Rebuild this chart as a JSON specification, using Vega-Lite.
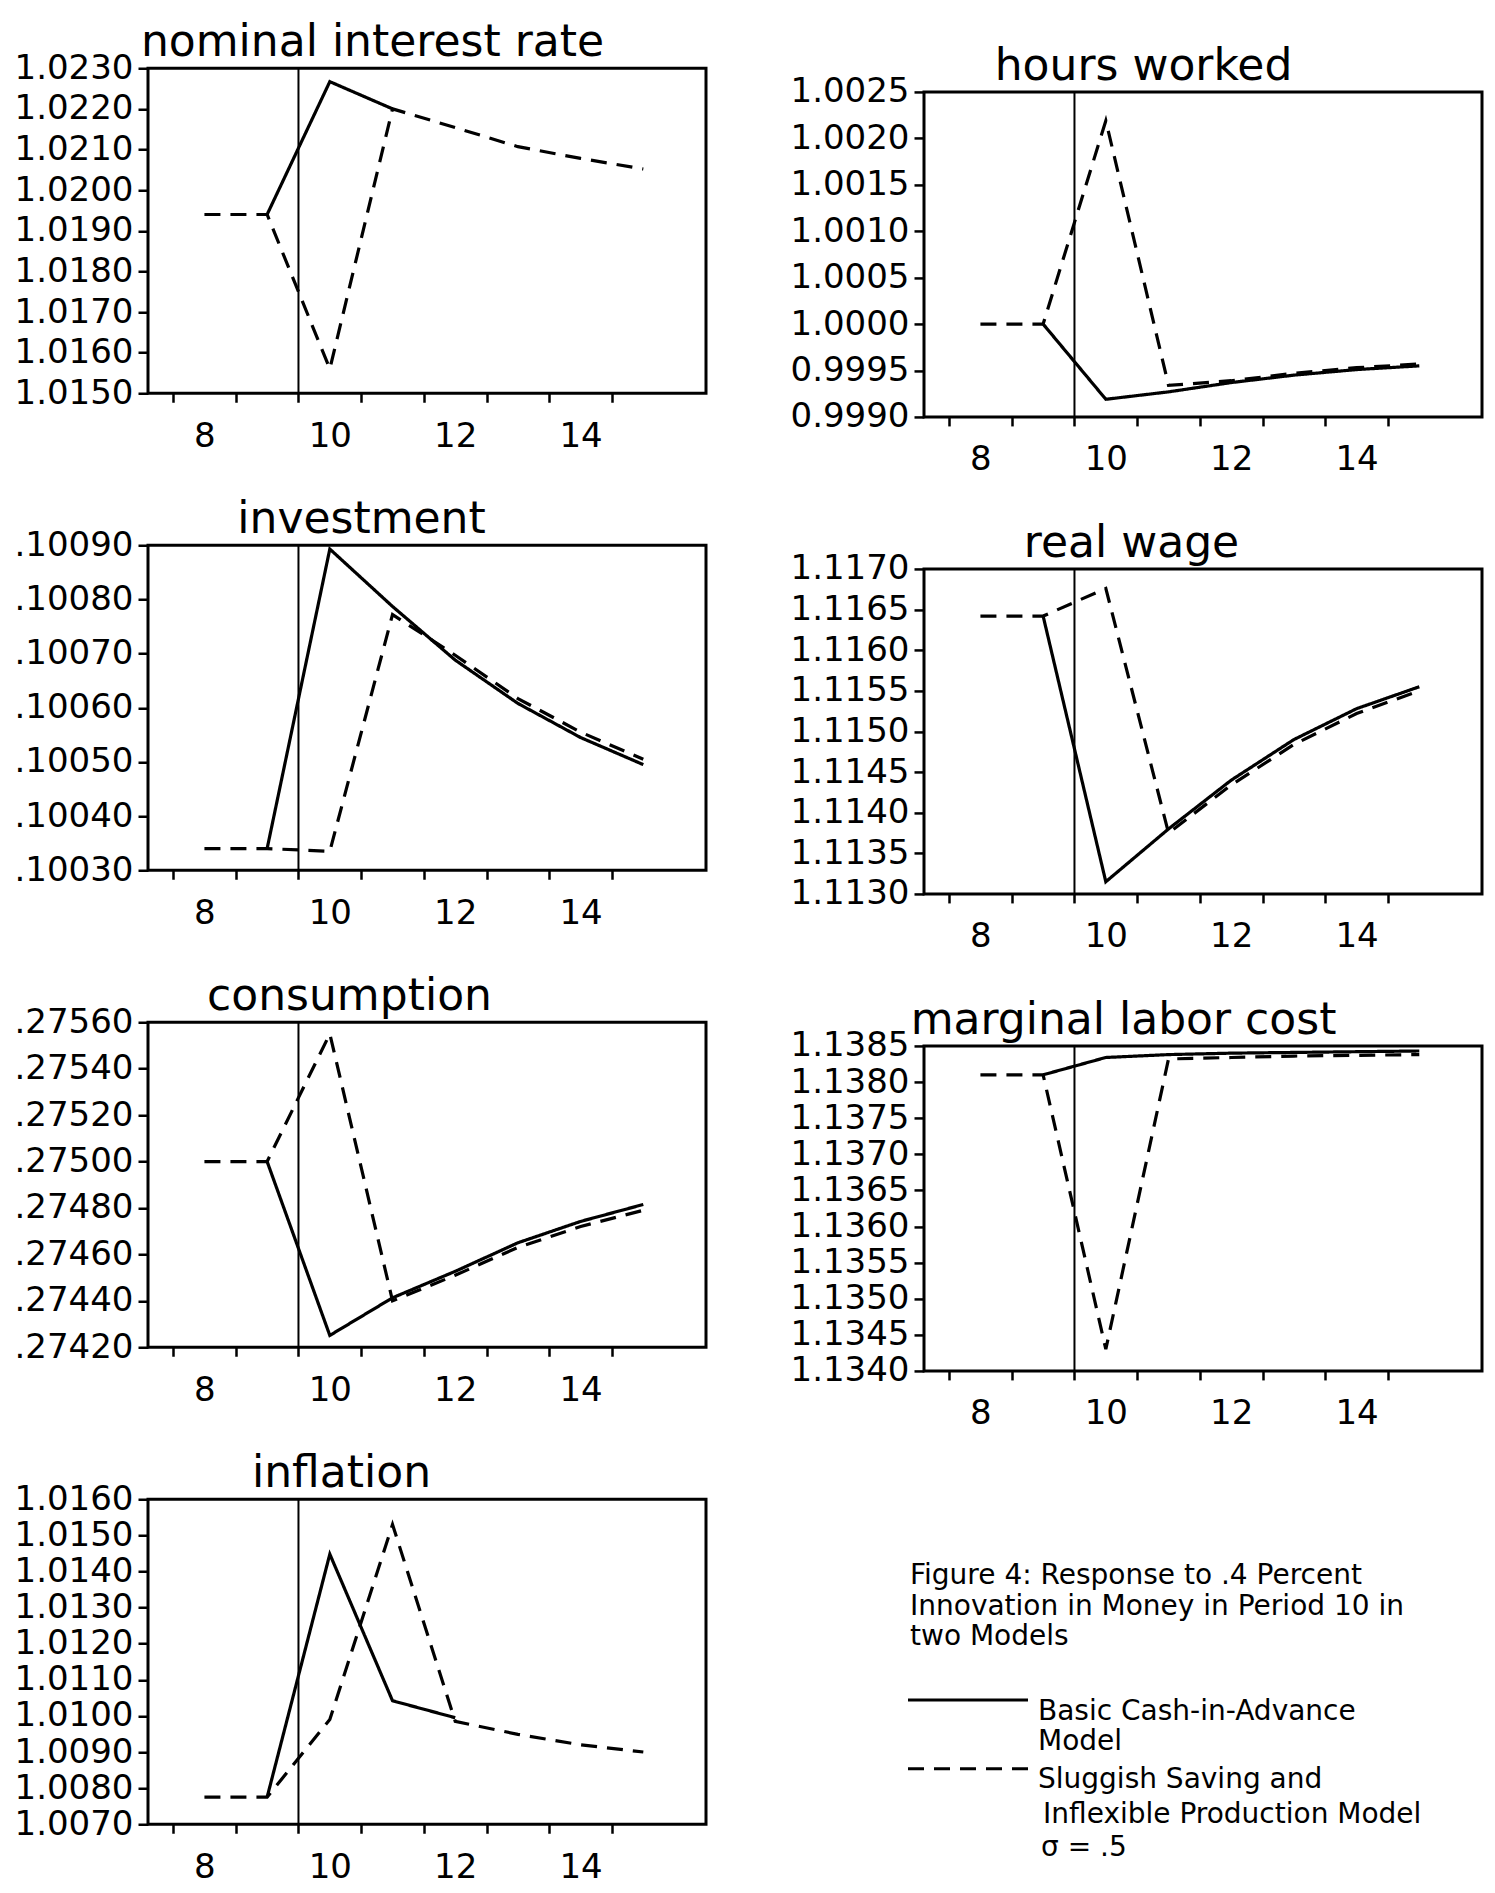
{
  "$schema": "https://vega.github.io/schema/vega-lite/v6.json",
  "background": "white",
  "padding": {"left": 3, "top": 19, "right": 5, "bottom": 3},
  "datasets": {
    "irf": [
      {"panel": "nominal", "model": "Basic CIA", "t": 9, "value": 1.0194},
      {"panel": "nominal", "model": "Basic CIA", "t": 10, "value": 1.02267},
      {"panel": "nominal", "model": "Basic CIA", "t": 11, "value": 1.0220},
      {"panel": "nominal", "model": "Sluggish Saving", "t": 8, "value": 1.0194},
      {"panel": "nominal", "model": "Sluggish Saving", "t": 9, "value": 1.0194},
      {"panel": "nominal", "model": "Sluggish Saving", "t": 10, "value": 1.0156},
      {"panel": "nominal", "model": "Sluggish Saving", "t": 11, "value": 1.0220},
      {"panel": "nominal", "model": "Sluggish Saving", "t": 12, "value": 1.02154},
      {"panel": "nominal", "model": "Sluggish Saving", "t": 13, "value": 1.02107},
      {"panel": "nominal", "model": "Sluggish Saving", "t": 14, "value": 1.02078},
      {"panel": "nominal", "model": "Sluggish Saving", "t": 15, "value": 1.02052},

      {"panel": "hours", "model": "Basic CIA", "t": 9, "value": 1.0},
      {"panel": "hours", "model": "Basic CIA", "t": 10, "value": 0.99919},
      {"panel": "hours", "model": "Basic CIA", "t": 11, "value": 0.99927},
      {"panel": "hours", "model": "Basic CIA", "t": 12, "value": 0.99937},
      {"panel": "hours", "model": "Basic CIA", "t": 13, "value": 0.99945},
      {"panel": "hours", "model": "Basic CIA", "t": 14, "value": 0.99951},
      {"panel": "hours", "model": "Basic CIA", "t": 15, "value": 0.99955},
      {"panel": "hours", "model": "Sluggish Saving", "t": 8, "value": 1.0},
      {"panel": "hours", "model": "Sluggish Saving", "t": 9, "value": 1.0},
      {"panel": "hours", "model": "Sluggish Saving", "t": 10, "value": 1.00219},
      {"panel": "hours", "model": "Sluggish Saving", "t": 11, "value": 0.99934},
      {"panel": "hours", "model": "Sluggish Saving", "t": 12, "value": 0.99939},
      {"panel": "hours", "model": "Sluggish Saving", "t": 13, "value": 0.99947},
      {"panel": "hours", "model": "Sluggish Saving", "t": 14, "value": 0.99953},
      {"panel": "hours", "model": "Sluggish Saving", "t": 15, "value": 0.99957},

      {"panel": "investment", "model": "Basic CIA", "t": 9, "value": 0.10034},
      {"panel": "investment", "model": "Basic CIA", "t": 10, "value": 0.100893},
      {"panel": "investment", "model": "Basic CIA", "t": 11, "value": 0.100787},
      {"panel": "investment", "model": "Basic CIA", "t": 12, "value": 0.100688},
      {"panel": "investment", "model": "Basic CIA", "t": 13, "value": 0.100608},
      {"panel": "investment", "model": "Basic CIA", "t": 14, "value": 0.100545},
      {"panel": "investment", "model": "Basic CIA", "t": 15, "value": 0.100495},
      {"panel": "investment", "model": "Sluggish Saving", "t": 8, "value": 0.10034},
      {"panel": "investment", "model": "Sluggish Saving", "t": 9, "value": 0.10034},
      {"panel": "investment", "model": "Sluggish Saving", "t": 10, "value": 0.100335},
      {"panel": "investment", "model": "Sluggish Saving", "t": 11, "value": 0.100772},
      {"panel": "investment", "model": "Sluggish Saving", "t": 12, "value": 0.100697},
      {"panel": "investment", "model": "Sluggish Saving", "t": 13, "value": 0.100617},
      {"panel": "investment", "model": "Sluggish Saving", "t": 14, "value": 0.100555},
      {"panel": "investment", "model": "Sluggish Saving", "t": 15, "value": 0.100505},

      {"panel": "wage", "model": "Basic CIA", "t": 9, "value": 1.11642},
      {"panel": "wage", "model": "Basic CIA", "t": 10, "value": 1.11315},
      {"panel": "wage", "model": "Basic CIA", "t": 11, "value": 1.1138},
      {"panel": "wage", "model": "Basic CIA", "t": 12, "value": 1.1144},
      {"panel": "wage", "model": "Basic CIA", "t": 13, "value": 1.1149},
      {"panel": "wage", "model": "Basic CIA", "t": 14, "value": 1.11528},
      {"panel": "wage", "model": "Basic CIA", "t": 15, "value": 1.11555},
      {"panel": "wage", "model": "Sluggish Saving", "t": 8, "value": 1.11642},
      {"panel": "wage", "model": "Sluggish Saving", "t": 9, "value": 1.11642},
      {"panel": "wage", "model": "Sluggish Saving", "t": 10, "value": 1.11676},
      {"panel": "wage", "model": "Sluggish Saving", "t": 11, "value": 1.11375},
      {"panel": "wage", "model": "Sluggish Saving", "t": 12, "value": 1.11434},
      {"panel": "wage", "model": "Sluggish Saving", "t": 13, "value": 1.11484},
      {"panel": "wage", "model": "Sluggish Saving", "t": 14, "value": 1.11522},
      {"panel": "wage", "model": "Sluggish Saving", "t": 15, "value": 1.1155},

      {"panel": "consumption", "model": "Basic CIA", "t": 9, "value": 0.275},
      {"panel": "consumption", "model": "Basic CIA", "t": 10, "value": 0.274251},
      {"panel": "consumption", "model": "Basic CIA", "t": 11, "value": 0.274413},
      {"panel": "consumption", "model": "Basic CIA", "t": 12, "value": 0.274527},
      {"panel": "consumption", "model": "Basic CIA", "t": 13, "value": 0.27465},
      {"panel": "consumption", "model": "Basic CIA", "t": 14, "value": 0.274742},
      {"panel": "consumption", "model": "Basic CIA", "t": 15, "value": 0.274815},
      {"panel": "consumption", "model": "Sluggish Saving", "t": 8, "value": 0.275},
      {"panel": "consumption", "model": "Sluggish Saving", "t": 9, "value": 0.275},
      {"panel": "consumption", "model": "Sluggish Saving", "t": 10, "value": 0.27555},
      {"panel": "consumption", "model": "Sluggish Saving", "t": 11, "value": 0.2744},
      {"panel": "consumption", "model": "Sluggish Saving", "t": 12, "value": 0.27451},
      {"panel": "consumption", "model": "Sluggish Saving", "t": 13, "value": 0.27463},
      {"panel": "consumption", "model": "Sluggish Saving", "t": 14, "value": 0.27472},
      {"panel": "consumption", "model": "Sluggish Saving", "t": 15, "value": 0.27479},

      {"panel": "mlc", "model": "Basic CIA", "t": 9, "value": 1.1381},
      {"panel": "mlc", "model": "Basic CIA", "t": 10, "value": 1.13834},
      {"panel": "mlc", "model": "Basic CIA", "t": 11, "value": 1.13838},
      {"panel": "mlc", "model": "Basic CIA", "t": 12, "value": 1.1384},
      {"panel": "mlc", "model": "Basic CIA", "t": 13, "value": 1.13841},
      {"panel": "mlc", "model": "Basic CIA", "t": 14, "value": 1.13842},
      {"panel": "mlc", "model": "Basic CIA", "t": 15, "value": 1.13843},
      {"panel": "mlc", "model": "Sluggish Saving", "t": 8, "value": 1.1381},
      {"panel": "mlc", "model": "Sluggish Saving", "t": 9, "value": 1.1381},
      {"panel": "mlc", "model": "Sluggish Saving", "t": 10, "value": 1.1343},
      {"panel": "mlc", "model": "Sluggish Saving", "t": 11, "value": 1.13832},
      {"panel": "mlc", "model": "Sluggish Saving", "t": 12, "value": 1.13834},
      {"panel": "mlc", "model": "Sluggish Saving", "t": 13, "value": 1.13836},
      {"panel": "mlc", "model": "Sluggish Saving", "t": 14, "value": 1.13837},
      {"panel": "mlc", "model": "Sluggish Saving", "t": 15, "value": 1.13838},

      {"panel": "inflation", "model": "Basic CIA", "t": 9, "value": 1.00775},
      {"panel": "inflation", "model": "Basic CIA", "t": 10, "value": 1.01448},
      {"panel": "inflation", "model": "Basic CIA", "t": 11, "value": 1.01042},
      {"panel": "inflation", "model": "Basic CIA", "t": 12, "value": 1.00995},
      {"panel": "inflation", "model": "Sluggish Saving", "t": 8, "value": 1.00775},
      {"panel": "inflation", "model": "Sluggish Saving", "t": 9, "value": 1.00775},
      {"panel": "inflation", "model": "Sluggish Saving", "t": 10, "value": 1.0099},
      {"panel": "inflation", "model": "Sluggish Saving", "t": 11, "value": 1.0153},
      {"panel": "inflation", "model": "Sluggish Saving", "t": 12, "value": 1.00985},
      {"panel": "inflation", "model": "Sluggish Saving", "t": 13, "value": 1.00949},
      {"panel": "inflation", "model": "Sluggish Saving", "t": 14, "value": 1.0092},
      {"panel": "inflation", "model": "Sluggish Saving", "t": 15, "value": 1.009}
    ],
    "shock": [{"t": 9.5}],
    "caption": [
      {"row": 0, "col": -0.7, "text": "Figure 4:  Response to .4 Percent"},
      {"row": 0.9, "col": -0.7, "text": "Innovation in Money in Period 10 in"},
      {"row": 1.8, "col": -0.7, "text": "two Models"},
      {"row": 4, "col": 5.7, "text": "Basic Cash-in-Advance"},
      {"row": 4.88, "col": 5.7, "text": "Model"},
      {"row": 6, "col": 5.7, "text": "Sluggish Saving and"},
      {"row": 7.04, "col": 5.95, "text": "Inflexible Production Model"},
      {"row": 8, "col": 5.85, "text": "σ = .5"}
    ],
    "key": [
      {"model": "Basic CIA", "row": 3.65, "from": -0.8, "to": 5.2},
      {"model": "Sluggish Saving", "row": 5.67, "from": -0.8, "to": 5.2}
    ]
  },
  "config": {
    "view": {"stroke": "black", "strokeWidth": 3},
    "font": "DejaVu Sans",
    "axis": {"domain": false, "grid": false, "tickColor": "black", "tickWidth": 2.5, "labelColor": "black", "labelFont": "DejaVu Sans", "title": null},
    "axisX": {"labelFontSize": 34, "tickSize": 9, "labelPadding": 9},
    "axisY": {"labelFontSize": 34, "tickSize": 10, "labelPadding": 5, "minExtent": 143},
    "title": {"font": "DejaVu Sans", "fontSize": 44, "fontWeight": "normal", "color": "black", "offset": -14, "frame": "bounds", "anchor": "middle"}
  },
  "hconcat": [
    {
      "spacing": 41,
      "vconcat": [
        {
          "width": 558, "height": 325,
          "title": {"text": "nominal interest rate", "dx": 17},
          "resolve": {"axis": {"x": "independent"}},
          "layer": [
            {
              "data": {"name": "irf"},
              "transform": [{"filter": "datum.panel === 'nominal'"}],
              "mark": {"type": "line", "color": "black", "strokeWidth": 3.2},
              "encoding": {
                "x": {"field": "t", "type": "quantitative", "scale": {"domain": [7.1, 16], "nice": false, "zero": false},
                  "axis": {"orient": "bottom", "values": [7.5, 8.5, 9.5, 10.5, 11.5, 12.5, 13.5, 14.5], "labels": false}},
                "y": {"field": "value", "type": "quantitative", "scale": {"domain": [1.015, 1.023], "nice": false, "zero": false},
                  "axis": {"values": [1.015, 1.016, 1.017, 1.018, 1.019, 1.02, 1.021, 1.022, 1.023], "format": ".4f"}},
                "strokeDash": {"field": "model", "type": "nominal", "scale": {"domain": ["Basic CIA", "Sluggish Saving"], "range": [[1, 0], [16, 10]]}, "legend": null}
              }
            },
            {
              "data": {"name": "shock"},
              "mark": {"type": "rule", "color": "black", "strokeWidth": 2},
              "encoding": {"x": {"field": "t", "type": "quantitative",
                "axis": {"orient": "bottom", "values": [8, 10, 12, 14], "ticks": false, "labelPadding": 26}}}
            }
          ]
        },
        {
          "width": 558, "height": 325,
          "title": {"text": "investment", "dx": 6},
          "resolve": {"axis": {"x": "independent"}},
          "layer": [
            {
              "data": {"name": "irf"},
              "transform": [{"filter": "datum.panel === 'investment'"}],
              "mark": {"type": "line", "color": "black", "strokeWidth": 3.2},
              "encoding": {
                "x": {"field": "t", "type": "quantitative", "scale": {"domain": [7.1, 16], "nice": false, "zero": false},
                  "axis": {"orient": "bottom", "values": [7.5, 8.5, 9.5, 10.5, 11.5, 12.5, 13.5, 14.5], "labels": false}},
                "y": {"field": "value", "type": "quantitative", "scale": {"domain": [0.1003, 0.1009], "nice": false, "zero": false},
                  "axis": {"values": [0.1003, 0.1004, 0.1005, 0.1006, 0.1007, 0.1008, 0.1009], "labelExpr": "replace(format(datum.value, '.5f'), '0.', '.')"}},
                "strokeDash": {"field": "model", "type": "nominal", "scale": {"domain": ["Basic CIA", "Sluggish Saving"], "range": [[1, 0], [16, 10]]}, "legend": null}
              }
            },
            {
              "data": {"name": "shock"},
              "mark": {"type": "rule", "color": "black", "strokeWidth": 2},
              "encoding": {"x": {"field": "t", "type": "quantitative",
                "axis": {"orient": "bottom", "values": [8, 10, 12, 14], "ticks": false, "labelPadding": 26}}}
            }
          ]
        },
        {
          "width": 558, "height": 325,
          "title": {"text": "consumption", "dx": -6},
          "resolve": {"axis": {"x": "independent"}},
          "layer": [
            {
              "data": {"name": "irf"},
              "transform": [{"filter": "datum.panel === 'consumption'"}],
              "mark": {"type": "line", "color": "black", "strokeWidth": 3.2},
              "encoding": {
                "x": {"field": "t", "type": "quantitative", "scale": {"domain": [7.1, 16], "nice": false, "zero": false},
                  "axis": {"orient": "bottom", "values": [7.5, 8.5, 9.5, 10.5, 11.5, 12.5, 13.5, 14.5], "labels": false}},
                "y": {"field": "value", "type": "quantitative", "scale": {"domain": [0.2742, 0.2756], "nice": false, "zero": false},
                  "axis": {"values": [0.2742, 0.2744, 0.2746, 0.2748, 0.275, 0.2752, 0.2754, 0.2756], "labelExpr": "replace(format(datum.value, '.5f'), '0.', '.')"}},
                "strokeDash": {"field": "model", "type": "nominal", "scale": {"domain": ["Basic CIA", "Sluggish Saving"], "range": [[1, 0], [16, 10]]}, "legend": null}
              }
            },
            {
              "data": {"name": "shock"},
              "mark": {"type": "rule", "color": "black", "strokeWidth": 2},
              "encoding": {"x": {"field": "t", "type": "quantitative",
                "axis": {"orient": "bottom", "values": [8, 10, 12, 14], "ticks": false, "labelPadding": 26}}}
            }
          ]
        },
        {
          "width": 558, "height": 325,
          "title": {"text": "inflation", "dx": -14},
          "resolve": {"axis": {"x": "independent"}},
          "layer": [
            {
              "data": {"name": "irf"},
              "transform": [{"filter": "datum.panel === 'inflation'"}],
              "mark": {"type": "line", "color": "black", "strokeWidth": 3.2},
              "encoding": {
                "x": {"field": "t", "type": "quantitative", "scale": {"domain": [7.1, 16], "nice": false, "zero": false},
                  "axis": {"orient": "bottom", "values": [7.5, 8.5, 9.5, 10.5, 11.5, 12.5, 13.5, 14.5], "labels": false}},
                "y": {"field": "value", "type": "quantitative", "scale": {"domain": [1.007, 1.016], "nice": false, "zero": false},
                  "axis": {"values": [1.007, 1.008, 1.009, 1.01, 1.011, 1.012, 1.013, 1.014, 1.015, 1.016], "format": ".4f"}},
                "strokeDash": {"field": "model", "type": "nominal", "scale": {"domain": ["Basic CIA", "Sluggish Saving"], "range": [[1, 0], [16, 10]]}, "legend": null}
              }
            },
            {
              "data": {"name": "shock"},
              "mark": {"type": "rule", "color": "black", "strokeWidth": 2},
              "encoding": {"x": {"field": "t", "type": "quantitative",
                "axis": {"orient": "bottom", "values": [8, 10, 12, 14], "ticks": false, "labelPadding": 26}}}
            }
          ]
        }
      ]
    },
    {
      "spacing": 41,
      "vconcat": [
        {
          "width": 558, "height": 325,
          "title": {"text": "hours worked", "dx": 12},
          "resolve": {"axis": {"x": "independent"}},
          "layer": [
            {
              "data": {"name": "irf"},
              "transform": [{"filter": "datum.panel === 'hours'"}],
              "mark": {"type": "line", "color": "black", "strokeWidth": 3.2},
              "encoding": {
                "x": {"field": "t", "type": "quantitative", "scale": {"domain": [7.1, 16], "nice": false, "zero": false},
                  "axis": {"orient": "bottom", "values": [7.5, 8.5, 9.5, 10.5, 11.5, 12.5, 13.5, 14.5], "labels": false}},
                "y": {"field": "value", "type": "quantitative", "scale": {"domain": [0.999, 1.0025], "nice": false, "zero": false},
                  "axis": {"values": [0.999, 0.9995, 1.0, 1.0005, 1.001, 1.0015, 1.002, 1.0025], "format": ".4f"}},
                "strokeDash": {"field": "model", "type": "nominal", "scale": {"domain": ["Basic CIA", "Sluggish Saving"], "range": [[1, 0], [16, 10]]}, "legend": null}
              }
            },
            {
              "data": {"name": "shock"},
              "mark": {"type": "rule", "color": "black", "strokeWidth": 2},
              "encoding": {"x": {"field": "t", "type": "quantitative",
                "axis": {"orient": "bottom", "values": [8, 10, 12, 14], "ticks": false, "labelPadding": 26}}}
            }
          ]
        },
        {
          "width": 558, "height": 325,
          "title": {"text": "real wage", "dx": 0},
          "resolve": {"axis": {"x": "independent"}},
          "layer": [
            {
              "data": {"name": "irf"},
              "transform": [{"filter": "datum.panel === 'wage'"}],
              "mark": {"type": "line", "color": "black", "strokeWidth": 3.2},
              "encoding": {
                "x": {"field": "t", "type": "quantitative", "scale": {"domain": [7.1, 16], "nice": false, "zero": false},
                  "axis": {"orient": "bottom", "values": [7.5, 8.5, 9.5, 10.5, 11.5, 12.5, 13.5, 14.5], "labels": false}},
                "y": {"field": "value", "type": "quantitative", "scale": {"domain": [1.113, 1.117], "nice": false, "zero": false},
                  "axis": {"values": [1.113, 1.1135, 1.114, 1.1145, 1.115, 1.1155, 1.116, 1.1165, 1.117], "format": ".4f"}},
                "strokeDash": {"field": "model", "type": "nominal", "scale": {"domain": ["Basic CIA", "Sluggish Saving"], "range": [[1, 0], [16, 10]]}, "legend": null}
              }
            },
            {
              "data": {"name": "shock"},
              "mark": {"type": "rule", "color": "black", "strokeWidth": 2},
              "encoding": {"x": {"field": "t", "type": "quantitative",
                "axis": {"orient": "bottom", "values": [8, 10, 12, 14], "ticks": false, "labelPadding": 26}}}
            }
          ]
        },
        {
          "width": 558, "height": 325,
          "title": {"text": "marginal labor cost", "dx": -8},
          "resolve": {"axis": {"x": "independent"}},
          "layer": [
            {
              "data": {"name": "irf"},
              "transform": [{"filter": "datum.panel === 'mlc'"}],
              "mark": {"type": "line", "color": "black", "strokeWidth": 3.2},
              "encoding": {
                "x": {"field": "t", "type": "quantitative", "scale": {"domain": [7.1, 16], "nice": false, "zero": false},
                  "axis": {"orient": "bottom", "values": [7.5, 8.5, 9.5, 10.5, 11.5, 12.5, 13.5, 14.5], "labels": false}},
                "y": {"field": "value", "type": "quantitative", "scale": {"domain": [1.134, 1.1385], "nice": false, "zero": false},
                  "axis": {"values": [1.134, 1.1345, 1.135, 1.1355, 1.136, 1.1365, 1.137, 1.1375, 1.138, 1.1385], "format": ".4f"}},
                "strokeDash": {"field": "model", "type": "nominal", "scale": {"domain": ["Basic CIA", "Sluggish Saving"], "range": [[1, 0], [16, 10]]}, "legend": null}
              }
            },
            {
              "data": {"name": "shock"},
              "mark": {"type": "rule", "color": "black", "strokeWidth": 2},
              "encoding": {"x": {"field": "t", "type": "quantitative",
                "axis": {"orient": "bottom", "values": [8, 10, 12, 14], "ticks": false, "labelPadding": 26}}}
            }
          ]
        },
        {
          "width": 560, "height": 384,
          "view": {"stroke": null},
          "layer": [
            {
              "data": {"name": "caption"},
              "mark": {"type": "text", "align": "left", "baseline": "middle", "font": "DejaVu Sans", "fontSize": 28, "color": "black"},
              "encoding": {
                "x": {"field": "col", "type": "quantitative", "scale": {"domain": [0, 28], "nice": false, "zero": false}, "axis": null},
                "y": {"field": "row", "type": "quantitative", "scale": {"domain": [-3.0, 8.29], "nice": false, "zero": false, "reverse": true}, "axis": null},
                "text": {"field": "text"}
              }
            },
            {
              "data": {"name": "key"},
              "mark": {"type": "rule", "color": "black", "strokeWidth": 3},
              "encoding": {
                "x": {"field": "from", "type": "quantitative"},
                "x2": {"field": "to"},
                "y": {"field": "row", "type": "quantitative"},
                "strokeDash": {"field": "model", "type": "nominal", "scale": {"domain": ["Basic CIA", "Sluggish Saving"], "range": [[1, 0], [16, 10]]}, "legend": null}
              }
            }
          ]
        }
      ]
    }
  ],
  "spacing": 71,
  "center": true
}
